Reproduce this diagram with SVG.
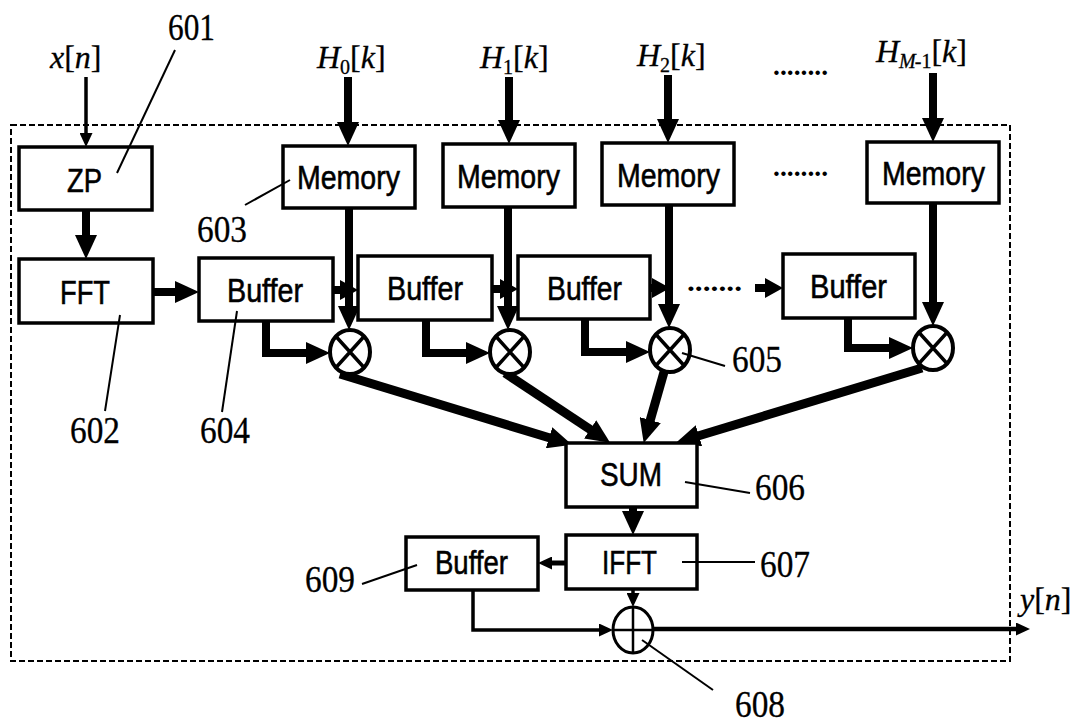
<svg xmlns="http://www.w3.org/2000/svg" width="1071" height="724" viewBox="0 0 1071 724">
<style>
.box{fill:#fff;stroke:#000;stroke-width:3.5}
.lbl{font-family:"Liberation Sans",Arial,sans-serif;font-size:34px;fill:#000;stroke:#000;stroke-width:0.6}
.num{font-family:"Liberation Serif","Times New Roman",serif;font-size:37px;fill:#000;stroke:#000;stroke-width:0.3}
.sig{font-family:"Liberation Serif","Times New Roman",serif;font-size:32px;fill:#000;stroke:#000;stroke-width:0.3}
.it{font-style:italic}
.sub{font-size:20px}
.dots{font-family:"Liberation Serif","Times New Roman",serif;font-size:28px;font-weight:bold;fill:#000}
.thick{fill:none;stroke:#000;stroke-width:8}
.thin{fill:none;stroke:#000;stroke-width:3.5}
.lead{fill:none;stroke:#000;stroke-width:2}
.op{fill:#fff;stroke:#000;stroke-width:4}
.frame{fill:none;stroke:#000;stroke-width:2;stroke-dasharray:6 3}
</style>
<defs>
<marker id="ah" markerUnits="userSpaceOnUse" markerWidth="24" markerHeight="22" viewBox="0 0 24 22" refX="1" refY="11" orient="auto"><path d="M0,0 L24,11 L0,22 z" fill="#000"/></marker>
<marker id="am" markerUnits="userSpaceOnUse" markerWidth="18" markerHeight="20" viewBox="0 0 18 20" refX="1" refY="10" orient="auto"><path d="M0,0 L18,10 L0,20 z" fill="#000"/></marker>
<marker id="as" markerUnits="userSpaceOnUse" markerWidth="14" markerHeight="13" viewBox="0 0 14 13" refX="1" refY="6.5" orient="auto"><path d="M0,0 L14,6.5 L0,13 z" fill="#000"/></marker>
</defs>
<rect width="1071" height="724" fill="#fff"/>
<rect class="frame" x="11" y="125" width="999" height="536"/>

<g id="connectors">
<line class="thin" x1="86" y1="77" x2="86" y2="134" marker-end="url(#as)"/>
<line class="thick" x1="348" y1="77" x2="348" y2="123" marker-end="url(#ah)"/>
<line class="thick" x1="509" y1="77" x2="509" y2="121" marker-end="url(#ah)"/>
<line class="thick" x1="668" y1="75" x2="668" y2="120" marker-end="url(#ah)"/>
<line class="thick" x1="933" y1="73" x2="933" y2="119" marker-end="url(#ah)"/>
<line class="thick" x1="86" y1="210" x2="86" y2="236" marker-end="url(#ah)"/>
<line class="thick" x1="153" y1="292" x2="176" y2="292" marker-end="url(#ah)"/>
<line class="thick" x1="333" y1="290" x2="341" y2="290" marker-end="url(#am)"/>
<line class="thick" x1="492" y1="289" x2="501" y2="289" marker-end="url(#am)"/>
<line class="thick" x1="650" y1="288" x2="653" y2="288" marker-end="url(#am)"/>
<line class="thick" x1="755" y1="288" x2="766" y2="288" marker-end="url(#am)"/>
<line class="thick" x1="349" y1="208" x2="349" y2="307" marker-end="url(#ah)"/>
<line class="thick" x1="508" y1="207" x2="508" y2="307" marker-end="url(#ah)"/>
<line class="thick" x1="669" y1="205" x2="669" y2="305" marker-end="url(#ah)"/>
<line class="thick" x1="933" y1="203" x2="933" y2="303" marker-end="url(#ah)"/>
<path class="thick" d="M266,321 V353 H307" marker-end="url(#ah)"/>
<path class="thick" d="M426,320 V353 H467" marker-end="url(#ah)"/>
<path class="thick" d="M585,319 V352 H627" marker-end="url(#ah)"/>
<path class="thick" d="M848,318 V348 H890" marker-end="url(#ah)"/>
<line class="thick" style="stroke-width:9" x1="340" y1="374" x2="550" y2="438" marker-end="url(#ah)"/>
<line class="thick" style="stroke-width:9" x1="505" y1="373" x2="591" y2="430" marker-end="url(#ah)"/>
<line class="thick" style="stroke-width:9" x1="664" y1="372" x2="650" y2="421" marker-end="url(#ah)"/>
<line class="thick" style="stroke-width:9" x1="922" y1="368" x2="698" y2="436" marker-end="url(#ah)"/>
<line class="thick" x1="633" y1="507" x2="633" y2="512" marker-end="url(#ah)"/>
<line class="thin" style="stroke-width:5" x1="566" y1="563" x2="551" y2="563" marker-end="url(#as)"/>
<line class="thin" x1="633" y1="589" x2="633" y2="594" marker-end="url(#as)"/>
<path class="thin" d="M473,590 V630 H600" marker-end="url(#as)"/>
<line class="thin" style="stroke-width:4.5" x1="653" y1="629" x2="1017" y2="629" marker-end="url(#as)"/>
</g>

<g id="zp"><rect class="box" x="19" y="147" width="133" height="63"/><text class="lbl" x="67" y="192" textLength="35" lengthAdjust="spacingAndGlyphs">ZP</text></g>
<g id="fft"><rect class="box" x="19" y="259" width="134" height="64"/><text class="lbl" x="60" y="304" textLength="50" lengthAdjust="spacingAndGlyphs">FFT</text></g>
<g id="mem0"><rect class="box" x="283" y="146" width="132" height="62"/><text class="lbl" x="297" y="189" textLength="103" lengthAdjust="spacingAndGlyphs">Memory</text></g>
<g id="mem1"><rect class="box" x="443" y="144" width="132" height="63"/><text class="lbl" x="457" y="188" textLength="103" lengthAdjust="spacingAndGlyphs">Memory</text></g>
<g id="mem2"><rect class="box" x="602" y="143" width="132" height="62"/><text class="lbl" x="617" y="187" textLength="103" lengthAdjust="spacingAndGlyphs">Memory</text></g>
<g id="mem3"><rect class="box" x="867" y="142" width="132" height="61"/><text class="lbl" x="882" y="185" textLength="103" lengthAdjust="spacingAndGlyphs">Memory</text></g>
<g id="buf0"><rect class="box" x="199" y="258" width="134" height="63"/><text class="lbl" x="227" y="302" textLength="76" lengthAdjust="spacingAndGlyphs">Buffer</text></g>
<g id="buf1"><rect class="box" x="358" y="256" width="134" height="64"/><text class="lbl" x="387" y="300" textLength="76" lengthAdjust="spacingAndGlyphs">Buffer</text></g>
<g id="buf2"><rect class="box" x="518" y="256" width="132" height="63"/><text class="lbl" x="547" y="300" textLength="75" lengthAdjust="spacingAndGlyphs">Buffer</text></g>
<g id="buf3"><rect class="box" x="783" y="254" width="132" height="64"/><text class="lbl" x="810" y="298" textLength="77" lengthAdjust="spacingAndGlyphs">Buffer</text></g>
<g id="mul0"><ellipse class="op" cx="350" cy="352" rx="20" ry="22"/><path class="lead" style="stroke-width:3.5" d="M336,336.5 L364,367.5 M364,336.5 L336,367.5"/></g>
<g id="mul1"><ellipse class="op" cx="510" cy="352" rx="20" ry="22"/><path class="lead" style="stroke-width:3.5" d="M496,336.5 L524,367.5 M524,336.5 L496,367.5"/></g>
<g id="mul2"><ellipse class="op" cx="670" cy="350" rx="20" ry="22"/><path class="lead" style="stroke-width:3.5" d="M656,334.5 L684,365.5 M684,334.5 L656,365.5"/></g>
<g id="mul3"><ellipse class="op" cx="933" cy="348" rx="20" ry="22"/><path class="lead" style="stroke-width:3.5" d="M919,332.5 L947,363.5 M947,332.5 L919,363.5"/></g>
<g id="sum"><rect class="box" x="566" y="443" width="131" height="64"/><text class="lbl" x="600" y="486" textLength="62" lengthAdjust="spacingAndGlyphs">SUM</text></g>
<g id="ifft"><rect class="box" x="566" y="535" width="131" height="54"/><text class="lbl" x="602" y="574" textLength="55" lengthAdjust="spacingAndGlyphs">IFFT</text></g>
<g id="buf609"><rect class="box" x="406" y="537" width="132" height="53"/><text class="lbl" x="435" y="574" textLength="73" lengthAdjust="spacingAndGlyphs">Buffer</text></g>
<g id="adder"><ellipse class="op" style="stroke-width:3" cx="633" cy="630" rx="20" ry="23"/><path class="lead" style="stroke-width:2.5" d="M633,607 V653 M613,630 H653"/></g>

<g id="leaders">
<line class="lead" x1="175" y1="50" x2="117" y2="173"/>
<line class="lead" x1="245" y1="205" x2="290" y2="180"/>
<line class="lead" x1="120" y1="315" x2="105" y2="411"/>
<line class="lead" x1="237" y1="311" x2="222" y2="412"/>
<line class="lead" x1="682" y1="353" x2="725" y2="366"/>
<line class="lead" x1="685" y1="482" x2="750" y2="493"/>
<line class="lead" x1="682" y1="562" x2="755" y2="562"/>
<line class="lead" x1="642" y1="640" x2="713" y2="690"/>
<line class="lead" x1="362" y1="584" x2="417" y2="565"/>
</g>

<g id="labels">
<text class="sig" x="50" y="68"><tspan class="it">x</tspan>[<tspan class="it">n</tspan>]</text>
<text class="sig" x="317" y="68"><tspan class="it">H</tspan><tspan class="sub" dy="6">0</tspan><tspan dy="-6">[</tspan><tspan class="it">k</tspan>]</text>
<text class="sig" x="480" y="68"><tspan class="it">H</tspan><tspan class="sub" dy="6">1</tspan><tspan dy="-6">[</tspan><tspan class="it">k</tspan>]</text>
<text class="sig" x="637" y="66"><tspan class="it">H</tspan><tspan class="sub" dy="6">2</tspan><tspan dy="-6">[</tspan><tspan class="it">k</tspan>]</text>
<text class="sig" x="876" y="62"><tspan class="it">H</tspan><tspan class="sub it" dy="6">M</tspan><tspan class="sub" dx="-1">-1</tspan><tspan dy="-6">[</tspan><tspan class="it">k</tspan>]</text>
<text class="sig" x="1020" y="610"><tspan class="it">y</tspan>[<tspan class="it">n</tspan>]</text>
<text class="dots" x="773" y="75" textLength="55" lengthAdjust="spacingAndGlyphs">........</text>
<text class="dots" x="773" y="176" textLength="55" lengthAdjust="spacingAndGlyphs">........</text>
<text class="dots" x="687" y="291" textLength="55" lengthAdjust="spacingAndGlyphs">.......</text>
<text class="num" x="168" y="40" textLength="47" lengthAdjust="spacingAndGlyphs">601</text>
<text class="num" x="197" y="242" textLength="50" lengthAdjust="spacingAndGlyphs">603</text>
<text class="num" x="70" y="443" textLength="50" lengthAdjust="spacingAndGlyphs">602</text>
<text class="num" x="200" y="443" textLength="50" lengthAdjust="spacingAndGlyphs">604</text>
<text class="num" x="732" y="372" textLength="50" lengthAdjust="spacingAndGlyphs">605</text>
<text class="num" x="755" y="500" textLength="50" lengthAdjust="spacingAndGlyphs">606</text>
<text class="num" x="760" y="577" textLength="50" lengthAdjust="spacingAndGlyphs">607</text>
<text class="num" x="735" y="717" textLength="50" lengthAdjust="spacingAndGlyphs">608</text>
<text class="num" x="305" y="592" textLength="50" lengthAdjust="spacingAndGlyphs">609</text>
</g>
</svg>
